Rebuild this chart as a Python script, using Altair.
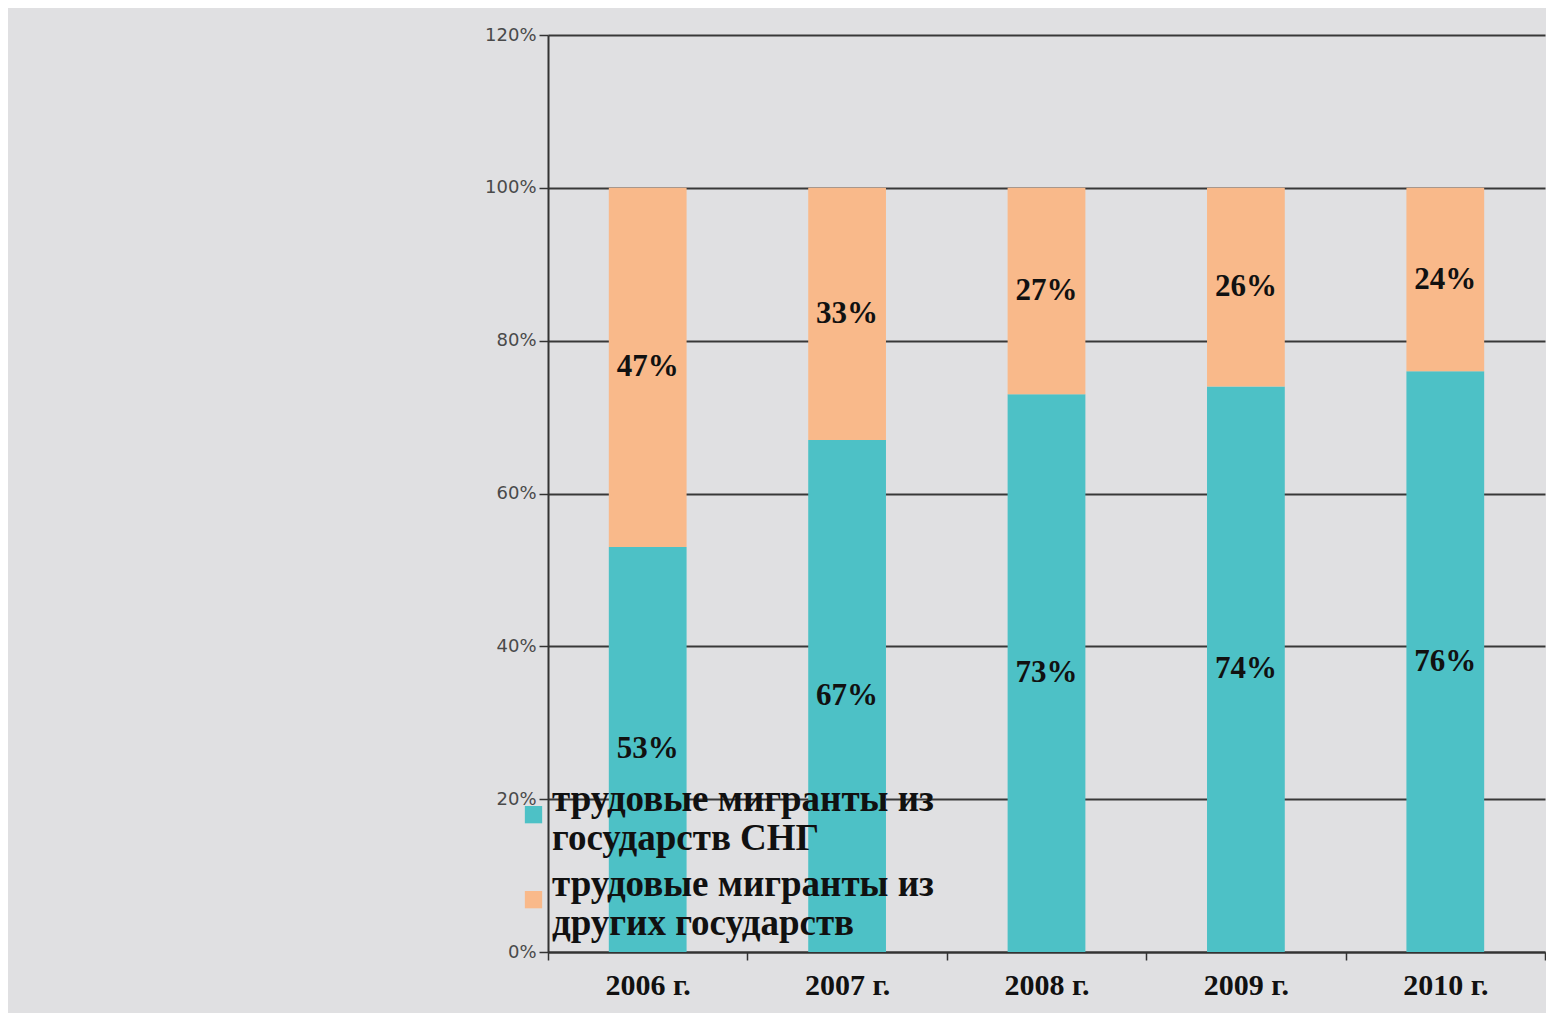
import altair as alt
import pandas as pd

years = ["2006 г.", "2007 г.", "2008 г.", "2009 г.", "2010 г."]
cis = [53, 67, 73, 74, 76]
other = [47, 33, 27, 26, 24]
series = ["трудовые мигранты из государств СНГ", "трудовые мигранты из других государств"]
colors = ["#4DC1C6", "#F9B98A"]

rows = []
for i, y in enumerate(years):
    base = 0
    for s, vals, order in ((series[0], cis, 0), (series[1], other, 1)):
        v = vals[i] / 100
        rows.append({"year": y, "series": s, "order": order, "v0": base, "v1": base + v,
                     "mid": base + v / 2, "label": f"{vals[i]}%"})
        base += v
df = pd.DataFrame(rows)

x = alt.X("year:N", sort=years, title=None,
          scale=alt.Scale(paddingInner=0, paddingOuter=0),
          axis=alt.Axis(labelAngle=0, labelFont="Liberation Serif", labelFontWeight="bold",
                        labelFontSize=30, labelColor="#111", labelPadding=10,
                        tickBand="extent", tickSize=8, tickColor="#333", tickWidth=1.5,
                        domainColor="#333", domainWidth=2))

bars = alt.Chart(df).mark_bar(width=alt.RelativeBandSize(0.39)).encode(
    x=x,
    y=alt.Y("v0:Q", title=None,
            scale=alt.Scale(domain=[0, 1.2], nice=False),
            axis=alt.Axis(format=".0%", values=[0, 0.2, 0.4, 0.6, 0.8, 1.0, 1.2],
                          labelFont="DejaVu Sans", labelFontSize=18, labelColor="#4a4a4a",
                          tickSize=9, tickColor="#333", tickWidth=1.5,
                          domainColor="#333", domainWidth=2,
                          gridColor="#383838", gridWidth=1.8, labelPadding=3)),
    y2="v1:Q",
    color=alt.Color("series:N", sort=series,
                    scale=alt.Scale(domain=series, range=colors),
                    legend=alt.Legend(title=None, orient="none", legendX=-33, legendY=746,
                                      labelFont="Liberation Serif", labelFontWeight="bold",
                                      labelFontSize=37, labelColor="#111", labelLimit=600,
                                      symbolType="M-1,0.75H1V2.75H-1Z", symbolSize=300,
                                      symbolStrokeWidth=0,
                                      rowPadding=8, labelOffset=0,
                                      labelExpr="[slice(datum.label,0,indexof(datum.label,' из ')+3), slice(datum.label,indexof(datum.label,' из ')+4)]")),
    order=alt.Order("order:Q"),
)

text = alt.Chart(df).mark_text(font="Liberation Serif", fontWeight="bold", fontSize=31,
                               color="#111").encode(
    x=alt.X("year:N", sort=years),
    y=alt.Y("mid:Q"),
    text="label:N",
)

chart = alt.layer(bars, text).properties(
    width=997, height=917,
    background="#e0e0e2",
    padding={"left": 540, "top": 27, "right": 1, "bottom": 61},
    autosize=alt.AutoSizeParams(type="none"),
).configure_view(stroke=None, fill=None)

chart.save("out.html", embed_options={"renderer": "svg", "actions": False})
